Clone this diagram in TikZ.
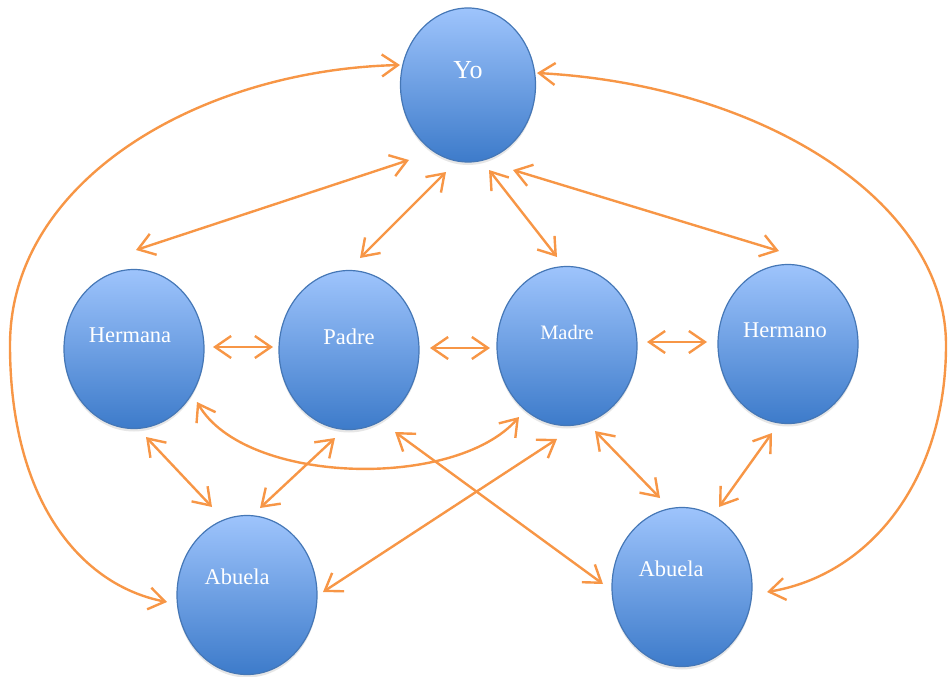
\documentclass[tikz,border=0pt]{standalone}
\usepackage{fontspec}
\setmainfont{Liberation Serif}
\usetikzlibrary{shapes.geometric,arrows.meta,shadows}
\definecolor{naranja}{HTML}{F79646}
\definecolor{azulclaro}{HTML}{9EC4FC}
\definecolor{azuloscuro}{HTML}{3D7BCA}
\definecolor{borde}{HTML}{4577B6}
\tikzset{
  persona/.style={ellipse, draw=borde, line width=1.2pt, top color=azulclaro, bottom color=azuloscuro,
    minimum width=140pt, minimum height=159pt, inner sep=0pt,
    drop shadow={opacity=.2, shadow xshift=0pt, shadow yshift=-3pt}},
  nombre/.style={text=white, font=\fontsize{22.5}{27}\selectfont, yshift=14pt},
  flecha/.style={draw=naranja, line width=2.4pt, >={Straight Barb[length=16pt,width=22pt]}, <->}
}
\begin{document}
\begin{tikzpicture}[x=1pt,y=-1pt]
    \useasboundingbox (0,0) rectangle (948,677);
    \node[persona, minimum width=135pt, minimum height=154pt,
        label={[nombre, font=\fontsize{26}{31}\selectfont, yshift=1pt]center:Yo}] (yo) at (468,85) {};
    \node[persona, label={[nombre, xshift=-4pt]center:Hermana}] (hermana) at (134,349) {};
    \node[persona, label={[nombre, yshift=-1pt]center:Padre}] (padre) at (349,350) {};
    \node[persona, label={[nombre, font=\fontsize{20.5}{25}\selectfont]center:Madre}] (madre) at (567,346) {};
    \node[persona, label={[nombre, xshift=-3pt]center:Hermano}] (hermano) at (788,344) {};
    \node[persona, label={[nombre, xshift=-10pt, yshift=4pt]center:Abuela}] (abuelaL) at (247,595) {};
    \node[persona, label={[nombre, xshift=-11pt, yshift=4pt]center:Abuela}] (abuelaR) at (682,587) {};

    \draw[flecha] ([shift={(-59,75)}]yo.center) -- ([shift={(2,-99)}]hermana.center);
    \draw[flecha] ([shift={(-22,87)}]yo.center) -- ([shift={(11,-92)}]padre.center);
    \draw[flecha] ([shift={(21,85)}]yo.center) -- ([shift={(-10,-89)}]madre.center);
    \draw[flecha] ([shift={(45,85)}]yo.center) -- ([shift={(-9,-93)}]hermano.center);
    \draw[flecha] ([shift={(-68,-20)}]yo.center) .. controls +(-200,5) and +(0,-165) .. (10,345)
        .. controls +(0,155) and +(-87,-17) .. ([shift={(-80,7)}]abuelaL.center);
    \draw[flecha] ([shift={(69,-12)}]yo.center) .. controls +(223,12) and +(0,-145) .. (946,345)
        .. controls +(0,135) and +(103,-17) .. ([shift={(85,5)}]abuelaR.center);

    \draw[flecha] ([shift={(79,-2)}]hermana.center) -- ([shift={(-76,-3)}]padre.center);
    \draw[flecha] ([shift={(81,-2)}]padre.center) -- ([shift={(-77,2)}]madre.center);
    \draw[flecha] ([shift={(80,-4)}]madre.center) -- ([shift={(-81,-2)}]hermano.center);
    \draw[flecha] ([shift={(63,53)}]hermana.center) .. controls +(48,83) and +(-64,73) .. ([shift={(-48,71)}]madre.center);

    \draw[flecha] ([shift={(12,88)}]hermana.center) -- ([shift={(-35,-88)}]abuelaL.center);
    \draw[flecha] ([shift={(-14,88)}]padre.center) -- ([shift={(13,-87)}]abuelaL.center);
    \draw[flecha] ([shift={(46,82)}]padre.center) -- ([shift={(-79,-3)}]abuelaR.center);
    \draw[flecha] ([shift={(-10,93)}]madre.center) -- ([shift={(76,-3)}]abuelaL.center);
    \draw[flecha] ([shift={(28,85)}]madre.center) -- ([shift={(-22,-89)}]abuelaR.center);
    \draw[flecha] ([shift={(-16,89)}]hermano.center) -- ([shift={(37,-80)}]abuelaR.center);
\end{tikzpicture}
\end{document}
